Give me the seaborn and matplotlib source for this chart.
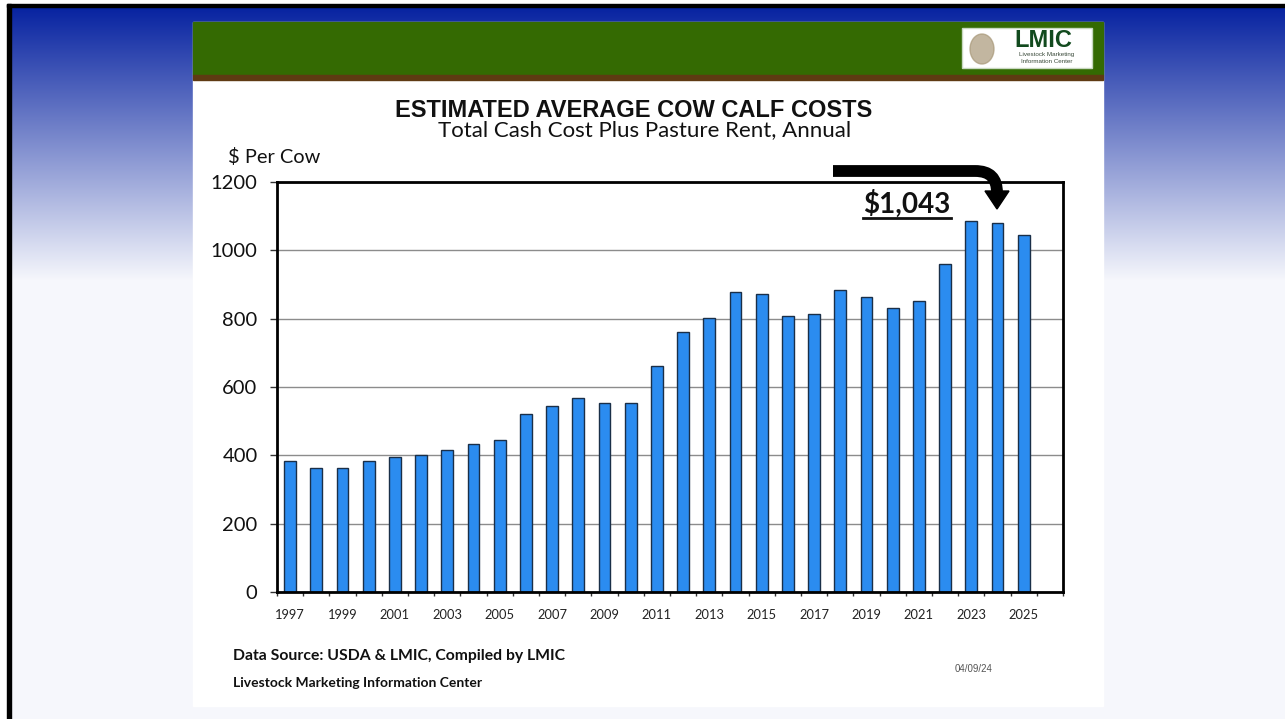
import numpy as np
import pandas as pd
import seaborn as sns
import matplotlib.pyplot as plt
from matplotlib.patches import Rectangle, Polygon, PathPatch, Ellipse
from matplotlib.path import Path

# --- Data ---
years = [str(y) for y in range(1997, 2026)]
slots = years + ['2026']          # Excel chart leaves one empty slot at the end
cost = [384, 363, 363, 384, 396, 402, 416, 433, 446, 521,
        544, 568, 553, 553, 661, 761, 802, 878, 872, 808,
        814, 884, 863, 831, 852, 959, 1086, 1081, 1045]
yticks = [0, 200, 400, 600, 800, 1000, 1200]

df = pd.DataFrame({'year': years, 'cost': cost})

W, H = 1285, 719
CAL = ['Lato', 'DejaVu Sans']
ARIAL = ['Liberation Sans', 'DejaVu Sans']

fig = plt.figure(figsize=(W / 100, H / 100), dpi=100)

# --- slide background (pixel coordinates, y downwards) ---
bg = fig.add_axes([0, 0, 1, 1], zorder=0)
bg.set_axis_off()
rows = np.arange(H)
t = np.clip((rows - 6) / (280 - 6), 0, 1)
top = np.array([6, 34, 160]) / 255
bot = np.array([246, 247, 252]) / 255
grad = top[None, :] * (1 - t)[:, None] + bot[None, :] * t[:, None]
bg.imshow(grad[:, None, :], aspect='auto', extent=[0, W, H, 0])
bg.set_xlim(0, W)
bg.set_ylim(H, 0)

bg.add_patch(Rectangle((0, 0), W, 4, color='white'))
bg.add_patch(Rectangle((0, 0), 7, H, color='white'))
bg.add_patch(Rectangle((7, 4), W - 7, 3, color='black'))
bg.add_patch(Rectangle((7, 4), 3.5, H - 4, color='black'))

# white panel with green header
bg.add_patch(Rectangle((193, 22), 910, 684, color='white'))
bg.add_patch(Rectangle((193, 22), 910, 53, color='#346a02'))
bg.add_patch(Rectangle((193, 75), 910, 5, color='#5e3a12'))

# logo box
bg.add_patch(Rectangle((962, 28), 130, 40, facecolor='white', edgecolor='#c8d8c0', lw=1))
bg.add_patch(Ellipse((982, 49), 24, 30, color='#a89878', alpha=0.7))
bg.text(1043, 47, 'LMIC', family=ARIAL, fontweight='bold', fontsize=17,
        color='#124a1e', ha='center', va='baseline')
bg.text(1047, 56, 'Livestock Marketing', family=ARIAL, fontsize=4.5,
        color='#3a4a3a', ha='center', va='baseline')
bg.text(1047, 63, 'Information Center', family=ARIAL, fontsize=4.5,
        color='#3a4a3a', ha='center', va='baseline')

# titles
bg.text(633.5, 117, 'ESTIMATED AVERAGE COW CALF COSTS', family=ARIAL,
        fontweight='bold', fontsize=17, color='#111111', ha='center', va='baseline')
bg.text(644.5, 136, 'Total Cash Cost Plus Pasture Rent, Annual', family=CAL,
        fontsize=16, color='#111111', ha='center', va='baseline')
bg.text(228, 163, '$ Per Cow', family=CAL, fontsize=14.4, color='#111111',
        ha='left', va='baseline')

# footer
bg.text(233, 660, 'Data Source: USDA & LMIC, Compiled by LMIC', family=CAL,
        fontweight='bold', fontsize=11.3, color='#111111', ha='left', va='baseline')
bg.text(233, 687, 'Livestock Marketing Information Center', family=CAL,
        fontweight='bold', fontsize=10, color='#111111', ha='left', va='baseline')
bg.text(955, 672, '04/09/24', family=ARIAL, fontsize=7, color='#555555',
        ha='left', va='baseline')

# --- chart ---
ax = fig.add_axes([277 / W, 1 - 592 / H, 786 / W, 410 / H], zorder=2)
sns.barplot(data=df, x='year', y='cost', order=slots, color='#2b8cf0',
            saturation=1, edgecolor='#1a2f48', linewidth=1, width=0.45, ax=ax)

ax.set_xlim(-0.5, len(slots) - 0.5)
ax.set_ylim(0, 1200)
ax.set_xlabel('')
ax.set_ylabel('')
ax.set_yticks(yticks)
ax.set_yticklabels([str(v) for v in yticks], family=CAL, fontsize=14.5, color='#111111')
ax.set_xticks(range(0, len(years), 2))
ax.set_xticklabels(years[::2], family=CAL, fontsize=9.3, color='#222222')
ax.set_xticks(np.arange(-0.5, len(slots), 1), minor=True)
ax.tick_params(axis='x', which='major', length=0, pad=12)
ax.tick_params(axis='x', which='minor', length=3, width=1, color='#333333')
ax.tick_params(axis='y', which='major', length=5, width=1, pad=9, color='#333333')
ax.yaxis.grid(True, color='#8c8c8c', lw=1)
ax.set_axisbelow(True)
for s in ax.spines.values():
    s.set_linewidth(2)
    s.set_color('black')

# --- callout arrow over the chart ---
ov = fig.add_axes([0, 0, 1, 1], zorder=3)
ov.set_axis_off()
ov.set_xlim(0, W)
ov.set_ylim(H, 0)
verts = [(833, 171), (975, 171), (990, 171), (997, 178), (997, 193)]
codes = [Path.MOVETO, Path.LINETO, Path.CURVE4, Path.CURVE4, Path.CURVE4]
ov.add_patch(PathPatch(Path(verts, codes), facecolor='none', edgecolor='black',
                       lw=8.5, capstyle='butt', joinstyle='round'))
ov.add_patch(Polygon([(985, 191), (1009, 191), (997, 209)], closed=True, color='black'))
ov.text(907, 213, '$1,043', family=CAL, fontweight='bold', fontsize=20,
        color='#111111', ha='center', va='baseline')
ov.plot([863, 951], [217.5, 217.5], color='#111111', lw=2)

fig.savefig('out.png', dpi=100)
